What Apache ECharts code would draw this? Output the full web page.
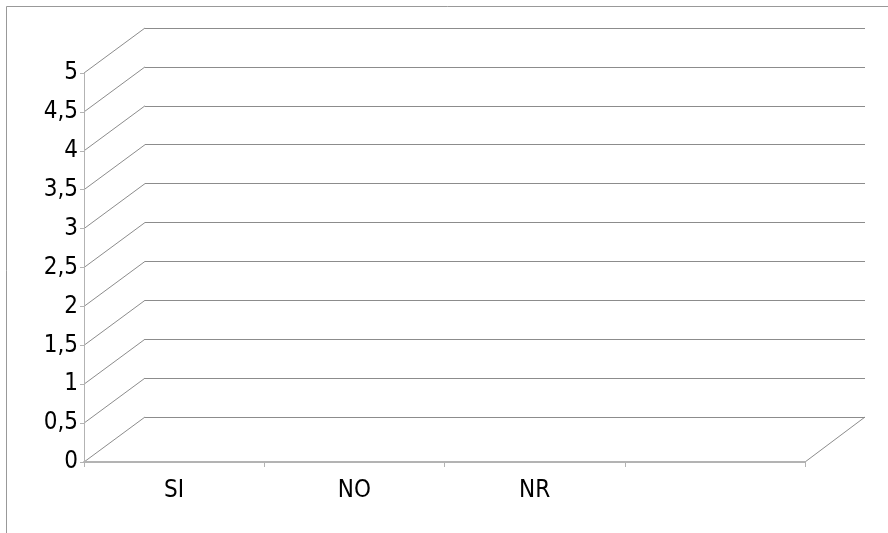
<!DOCTYPE html>
<html>
<head>
<meta charset="utf-8">
<script src="https://cdn.jsdelivr.net/npm/echarts@6/dist/echarts.min.js"></script>
<style>
  html, body { margin: 0; padding: 0; background: #fff; }
  #chart { width: 888px; height: 533px; }
</style>
</head>
<body>
<div id="chart"></div>
<script>
// Categories along the floor (the fourth slot is left unlabelled)
const categories = ['SI', 'NO', 'NR', ''];
// Series values (no responses recorded)
const seriesValues = [0, 0, 0, 0];
// Value axis range and step
const yMin = 0;
const yMax = 5;
const yStep = 0.5;

const gridColor = '#8c8c8c';
const axisColor = '#b3b3b3';
const fontFamily = 'DejaVu Sans Condensed';
const fontSize = 24;

const chart = echarts.init(document.getElementById('chart'), null, { renderer: 'canvas' });

const fmt = v => String(v).replace('.', ',');

chart.setOption({
  animation: false,
  backgroundColor: '#ffffff',
  grid: [
    // front plane: axes and labels
    { left: 84, right: 83, top: 73, height: 389, containLabel: false },
    // back wall: gridlines
    { left: 145, right: 23, top: 28, height: 389, containLabel: false }
  ],
  xAxis: [
    {
      gridIndex: 0,
      type: 'category',
      data: categories,
      boundaryGap: true,
      axisLine: { show: true, lineStyle: { color: axisColor, width: 2 } },
      axisTick: { show: true, length: 5, lineStyle: { color: axisColor } },
      axisLabel: { color: '#000', fontFamily, fontSize, margin: 17 },
      splitLine: { show: false }
    },
    {
      gridIndex: 1,
      type: 'category',
      data: categories,
      show: false
    }
  ],
  yAxis: [
    {
      gridIndex: 0,
      type: 'value',
      min: yMin, max: yMax, interval: yStep,
      axisLine: { show: true, lineStyle: { color: axisColor } },
      axisTick: { show: true, length: 4, lineStyle: { color: axisColor } },
      axisLabel: { color: '#000', fontFamily, fontSize, margin: 6, formatter: fmt },
      splitLine: { show: false }
    },
    {
      gridIndex: 1,
      type: 'value',
      min: yMin, max: yMax, interval: yStep,
      axisLine: { show: false },
      axisTick: { show: false },
      axisLabel: { show: false },
      splitLine: { show: true, lineStyle: { color: gridColor, width: 1 } }
    }
  ],
  series: [
    {
      type: 'bar',
      xAxisIndex: 0,
      yAxisIndex: 0,
      data: seriesValues,
      itemStyle: { color: '#004586' },
      barWidth: '60%'
    }
  ]
});

// Depth edges: join each front tick to its matching back-wall gridline,
// plus the right edge of the floor, and the outer frame.
const fr = chart.getModel().getComponent('grid', 0).coordinateSystem.getRect();
const br = chart.getModel().getComponent('grid', 1).coordinateSystem.getRect();
const graphics = [{
  type: 'rect',
  shape: { x: 6.5, y: 6.5, width: 1000, height: 1000 },
  style: { fill: null, stroke: '#999999', lineWidth: 1 },
  silent: true
}];
for (let v = yMin; v <= yMax + 1e-9; v += yStep) {
  const front = chart.convertToPixel({ gridIndex: 0 }, [0, v]);
  const back = chart.convertToPixel({ gridIndex: 1 }, [0, v]);
  graphics.push({
    type: 'line',
    shape: { x1: fr.x, y1: front[1], x2: br.x, y2: back[1] },
    style: { stroke: gridColor, lineWidth: 1 },
    silent: true
  });
}
graphics.push({
  type: 'line',
  shape: { x1: fr.x + fr.width, y1: fr.y + fr.height, x2: br.x + br.width, y2: br.y + br.height },
  style: { stroke: gridColor, lineWidth: 1 },
  silent: true
});
chart.setOption({ graphic: graphics });
</script>
</body>
</html>
